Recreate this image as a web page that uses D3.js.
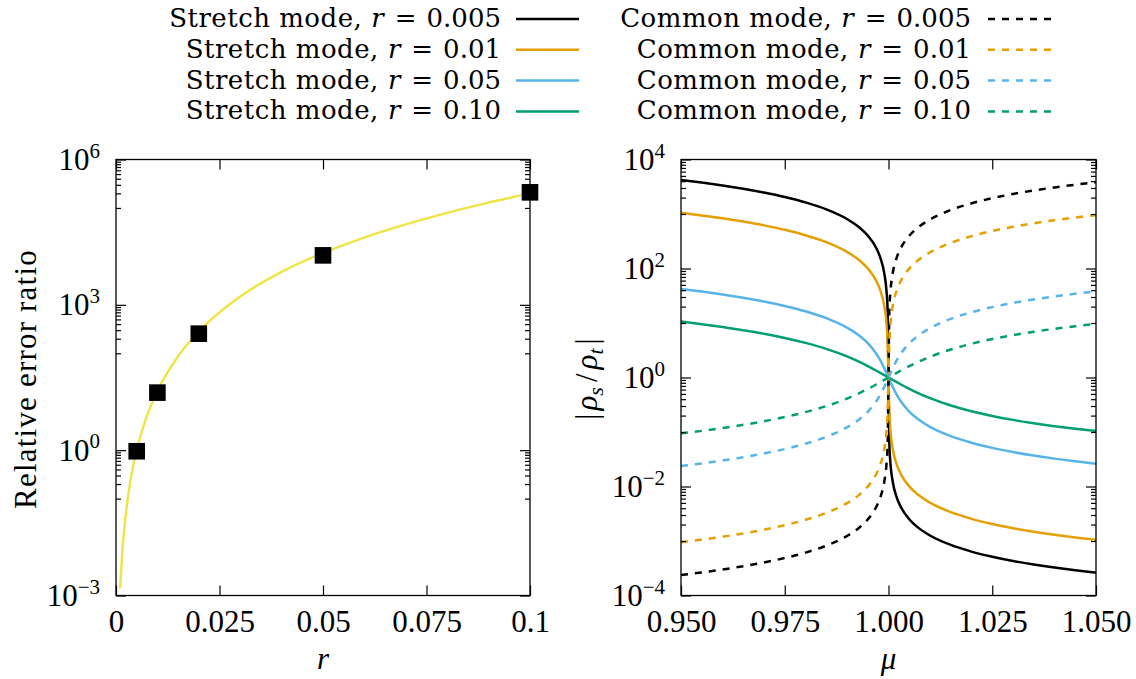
<!DOCTYPE html>
<html><head><meta charset="utf-8">
<script src="https://cdn.jsdelivr.net/npm/d3@7"></script>
<style>
body{margin:0;background:#fff;}
svg{display:block;background:#fff;}
text{font-family:"Liberation Serif","Times New Roman",serif;fill:#000;}
</style></head><body>
<svg id="chart" width="1136" height="679"></svg>
<script>
// ---------------- data ----------------
// Left panel: relative error ratio vs r
const errR = [0.005, 0.01, 0.02, 0.05, 0.1];
const errRatio = [0.95, 15.4, 254, 10500, 210000];
const fitR = [0.001,0.0015,0.002,0.003,0.004,0.005,0.007,0.01,0.015,0.02,0.03,0.04,0.05,0.06,0.07,0.08,0.09,0.1];
const fitRatio = [1.41e-3,7.4e-3,0.024,0.126,0.41,1,3.9,16.6,87,282,1480,4790,11750,24500,45700,79400,129000,200000];
const leftXTicks = [0, 0.025, 0.05, 0.075, 0.1];
const leftXTickLabels = ["0", "0.025", "0.05", "0.075", "0.1"];
const leftYTicks = [1e-3, 1e0, 1e3, 1e6];
const leftYExp = ["\u22123", "0", "3", "6"];

// Right panel: |rho_s/rho_t| vs mu
const mu = [0.950,0.955,0.960,0.965,0.970,0.975,0.980,0.985,0.990,0.993,0.995,0.997,0.998,0.999,0.9995,0.9998,1.000,1.0002,1.0005,1.001,1.002,1.003,1.005,1.007,1.010,1.015,1.020,1.025,1.030,1.035,1.040,1.045,1.050];
const stretch0005 = [4211,3770,3333,2902,2474,2051,1633,1218,808.1,563.9,402.0,240.7,160.3,80.09,40.04,16.07,1,0.06227,0.02500,0.01251,0.006262,0.004179,0.002513,0.001798,0.001263,8.46e-4,6.38e-4,5.13e-4,4.29e-4,3.70e-4,3.25e-4,2.90e-4,2.63e-4];
const stretch001 = [1052.6,942.4,833.3,725.4,618.6,512.8,408.2,304.6,202.0,141.0,100.5,60.2,40.10,20.07,10.10,4.237,1,0.2361,0.09907,0.04993,0.02503,0.01671,0.01005,0.007193,0.005050,0.003383,0.002550,0.002050,0.001717,0.001479,0.001300,0.001161,0.001050];
const stretch005 = [42.13,37.72,33.36,29.05,24.78,20.56,16.39,12.26,8.202,5.811,4.255,2.768,2.083,1.478,1.220,1.083,1,0.9232,0.8199,0.6773,0.4812,0.3629,0.2371,0.1744,0.1243,0.08399,0.06350,0.05112,0.04284,0.03692,0.03247,0.02900,0.02623];
const stretch010 = [10.62,9.529,8.452,7.389,6.343,5.316,4.313,3.345,2.432,1.928,1.622,1.345,1.220,1.105,1.051,1.020,1,0.9802,0.9513,0.9051,0.8201,0.7447,0.6194,0.5227,0.4171,0.3065,0.2403,0.1970,0.1669,0.1448,0.1279,0.1146,0.1039];
const common0005 = [2.375e-4,2.653e-4,3.000e-4,3.447e-4,4.042e-4,4.875e-4,6.125e-4,8.208e-4,1.2375e-3,1.773e-3,2.488e-3,4.155e-3,6.238e-3,1.2486e-2,2.4975e-2,6.224e-2,1,16.06,40.0,79.9,159.7,239.3,398.0,556.1,792.1,1182,1569,1951,2330,2705,3077,3445,3810];
const common001 = [9.50e-4,1.061e-3,1.200e-3,1.379e-3,1.617e-3,1.950e-3,2.450e-3,3.283e-3,4.950e-3,7.092e-3,9.950e-3,1.661e-2,2.494e-2,4.983e-2,9.90e-2,0.2360,1,4.235,10.09,20.03,39.95,59.84,99.51,139.0,198.0,295.6,392.2,487.8,582.5,676.3,769.2,861.2,952.4];
const common005 = [0.02374,0.02651,0.02998,0.03442,0.04035,0.04864,0.06101,0.08157,0.1219,0.1721,0.2350,0.3613,0.4801,0.6766,0.8197,0.9232,1,1.0832,1.2197,1.4765,2.0781,2.7557,4.2172,5.7352,8.045,11.906,15.749,19.563,23.343,27.089,30.802,34.479,38.122];
const common010 = [0.09416,0.1049,0.1183,0.1353,0.1577,0.1881,0.2319,0.2990,0.4112,0.5187,0.6165,0.7435,0.8197,0.9050,0.9512,0.9802,1,1.0202,1.0512,1.1049,1.2193,1.3428,1.6145,1.9131,2.3975,3.2626,4.1615,5.0761,5.9916,6.9061,7.8186,8.7260,9.6246];
const rLabels = ["0.005", "0.01", "0.05", "0.10"];
const seriesColors = ["#000000", "#e69f00", "#56b4e9", "#009e73"];
const stretchSeries = [stretch0005, stretch001, stretch005, stretch010];
const commonSeries = [common0005, common001, common005, common010];
const rightXTicks = [0.950, 0.975, 1.000, 1.025, 1.050];
const rightXTickLabels = ["0.950", "0.975", "1.000", "1.025", "1.050"];
const rightYTicks = [1e-4, 1e-2, 1e0, 1e2, 1e4];
const rightYExp = ["\u22124", "\u22122", "0", "2", "4"];

// ---------------- drawing ----------------
const svg = d3.select("#chart");
const TOP = 159.5, BOT = 595.5;
const FS = 31, EXPFS = 21;
const LEGFONT = '"DejaVu Serif", serif';

// lays out a row of separate text pieces; anchor: "start" | "end" | "middle"
function row(parent, parts, x, y, anchor){
  const els = parts.map(p => parent.append("text")
    .attr("y", y + (p.dy || 0))
    .style("font-family", p.family || null)
    .style("font-size", (p.size || FS) + "px")
    .style("font-style", p.italic ? "italic" : "normal")
    .style("letter-spacing", p.ls ? p.ls + "px" : null)
    .text(p.t));
  const widths = els.map(e => e.node().getComputedTextLength());
  let total = 0;
  parts.forEach((p, i) => { total += (p.gap || 0) + widths[i]; });
  let cx = anchor === "end" ? x - total : anchor === "middle" ? x - total / 2 : x;
  els.forEach((e, i) => { cx += (parts[i].gap || 0); e.attr("x", cx); cx += widths[i]; });
  return els;
}

function minorTicks(majors){
  const out = [];
  majors.slice(1).forEach(v => { for (let m = 1; m <= 9; m++) out.push(m * v / 10); });
  return out;
}

function drawFrame(x, y, xTicks, xLabels, yTicks, yExp){
  const [x0, x1] = x.range();
  const minors = minorTicks(yTicks);
  const styleAxis = g => {
    g.select(".domain").remove();
    g.attr("font-family", null).attr("font-size", null);
    g.selectAll(".tick line").attr("stroke", "#000").attr("stroke-width", 1.2);
  };
  const gb = svg.append("g").attr("transform", `translate(0,${BOT})`)
    .call(d3.axisBottom(x).tickValues(xTicks).tickSize(-10).tickSizeOuter(0).tickPadding(14.5)
      .tickFormat((d, i) => xLabels[i]));
  styleAxis(gb);
  gb.selectAll(".tick text").style("font-size", FS + "px").attr("fill", "#000");
  const gt = svg.append("g").attr("transform", `translate(0,${TOP})`)
    .call(d3.axisTop(x).tickValues(xTicks).tickSize(-10).tickSizeOuter(0).tickFormat(() => ""));
  styleAxis(gt);
  [[d3.axisLeft, x0], [d3.axisRight, x1]].forEach(([ax, pos]) => {
    const gM = svg.append("g").attr("transform", `translate(${pos},0)`)
      .call(ax(y).tickValues(yTicks).tickSize(-10).tickSizeOuter(0).tickFormat(() => ""));
    styleAxis(gM);
    const gm = svg.append("g").attr("transform", `translate(${pos},0)`)
      .call(ax(y).tickValues(minors).tickSize(-5).tickSizeOuter(0).tickFormat(() => ""));
    styleAxis(gm);
  });
  const gl = svg.append("g");
  yTicks.forEach((v, i) => {
    row(gl, [{t: "10"}, {t: yExp[i], size: EXPFS, dy: -12.5}], x0 - 16, y(v) + 10.5, "end");
  });
  svg.append("rect").attr("x", x0).attr("y", TOP).attr("width", x1 - x0).attr("height", BOT - TOP)
    .attr("fill", "none").attr("stroke", "#000").attr("stroke-width", 1.3);
}

// ---- Left panel ----
const xL = d3.scaleLinear().domain([0, 0.1]).range([116, 530]);
const yL = d3.scaleLog().domain([1e-3, 1e6]).range([BOT, TOP]);
svg.append("clipPath").attr("id", "clipL").append("rect")
  .attr("x", 116).attr("y", TOP).attr("width", 414).attr("height", BOT - TOP);
const gL = svg.append("g").attr("clip-path", "url(#clipL)");
gL.append("path")
  .datum(fitR.map((r, i) => [r, fitRatio[i]]))
  .attr("fill", "none").attr("stroke", "#f0e442").attr("stroke-width", 2.4)
  .attr("d", d3.line().x(d => xL(d[0])).y(d => yL(d[1])).curve(d3.curveMonotoneX));
svg.append("g").selectAll("rect").data(errR.map((r, i) => [r, errRatio[i]])).join("rect")
  .attr("x", d => xL(d[0]) - 8.3).attr("y", d => yL(d[1]) - 8.3)
  .attr("width", 16.6).attr("height", 16.6).attr("fill", "#000");
drawFrame(xL, yL, leftXTicks, leftXTickLabels, leftYTicks, leftYExp);

svg.append("text").attr("transform", "translate(35.5,379) rotate(-90)")
  .attr("text-anchor", "middle").style("font-size", FS + "px").style("letter-spacing", "1.2px")
  .text("Relative error ratio");
svg.append("text").attr("x", 323).attr("y", 669).attr("text-anchor", "middle")
  .style("font-size", FS + "px").style("font-style", "italic").text("r");

// ---- Right panel ----
const xR = d3.scaleLinear().domain([0.95, 1.05]).range([681, 1096]);
const yR = d3.scaleLog().domain([1e-4, 1e4]).range([BOT, TOP]);
svg.append("clipPath").attr("id", "clipR").append("rect")
  .attr("x", 681).attr("y", TOP).attr("width", 415).attr("height", BOT - TOP);
const gR = svg.append("g").attr("clip-path", "url(#clipR)");
const lineR = d3.line().x(d => xR(d[0])).y(d => yR(d[1])).curve(d3.curveMonotoneX);
stretchSeries.forEach((s, k) => {
  gR.append("path").datum(mu.map((m, i) => [m, s[i]]))
    .attr("fill", "none").attr("stroke", seriesColors[k]).attr("stroke-width", 2.5).attr("d", lineR);
});
commonSeries.forEach((s, k) => {
  gR.append("path").datum(mu.map((m, i) => [m, s[i]]))
    .attr("fill", "none").attr("stroke", seriesColors[k]).attr("stroke-width", 2.5)
    .attr("stroke-dasharray", "7,7").attr("d", lineR);
});
drawFrame(xR, yR, rightXTicks, rightXTickLabels, rightYTicks, rightYExp);

// y label |rho_s / rho_t|
{
  const g = svg.append("g").attr("transform", "translate(597,379) rotate(-90)");
  row(g, [
    {t: "|"},
    {t: "ρ", italic: true, gap: 3},
    {t: "s", italic: true, size: 22, dy: 6},
    {t: "/", gap: 5},
    {t: "ρ", italic: true, gap: 4},
    {t: "t", italic: true, size: 22, dy: 6},
    {t: "|", gap: 4}
  ], 0, 0, "middle");
}
svg.append("text").attr("x", 888.5).attr("y", 669).attr("text-anchor", "middle")
  .style("font-size", FS + "px").style("font-style", "italic").text("μ");

// ---- Legend ----
const gLeg = svg.append("g");
function legendEntry(xEnd, y, mode, rl){
  row(gLeg, [
    {t: mode + " mode,", size: 26, ls: 0.5, family: LEGFONT},
    {t: "r", italic: true, size: 26, gap: 9, family: LEGFONT},
    {t: "=", size: 26, gap: 11, family: LEGFONT},
    {t: rl, size: 26, gap: 10, family: LEGFONT}
  ], xEnd, y, "end");
}
rLabels.forEach((rl, i) => {
  const by = 27 + 30.8 * i;
  legendEntry(501, by, "Stretch", rl);
  gLeg.append("line").attr("x1", 516).attr("x2", 579).attr("y1", by - 8).attr("y2", by - 8)
    .attr("stroke", seriesColors[i]).attr("stroke-width", 2.5);
  legendEntry(971, by, "Common", rl);
  gLeg.append("line").attr("x1", 988).attr("x2", 1051).attr("y1", by - 8).attr("y2", by - 8)
    .attr("stroke", seriesColors[i]).attr("stroke-width", 2.5).attr("stroke-dasharray", "7,7");
});
</script>
</body></html>
